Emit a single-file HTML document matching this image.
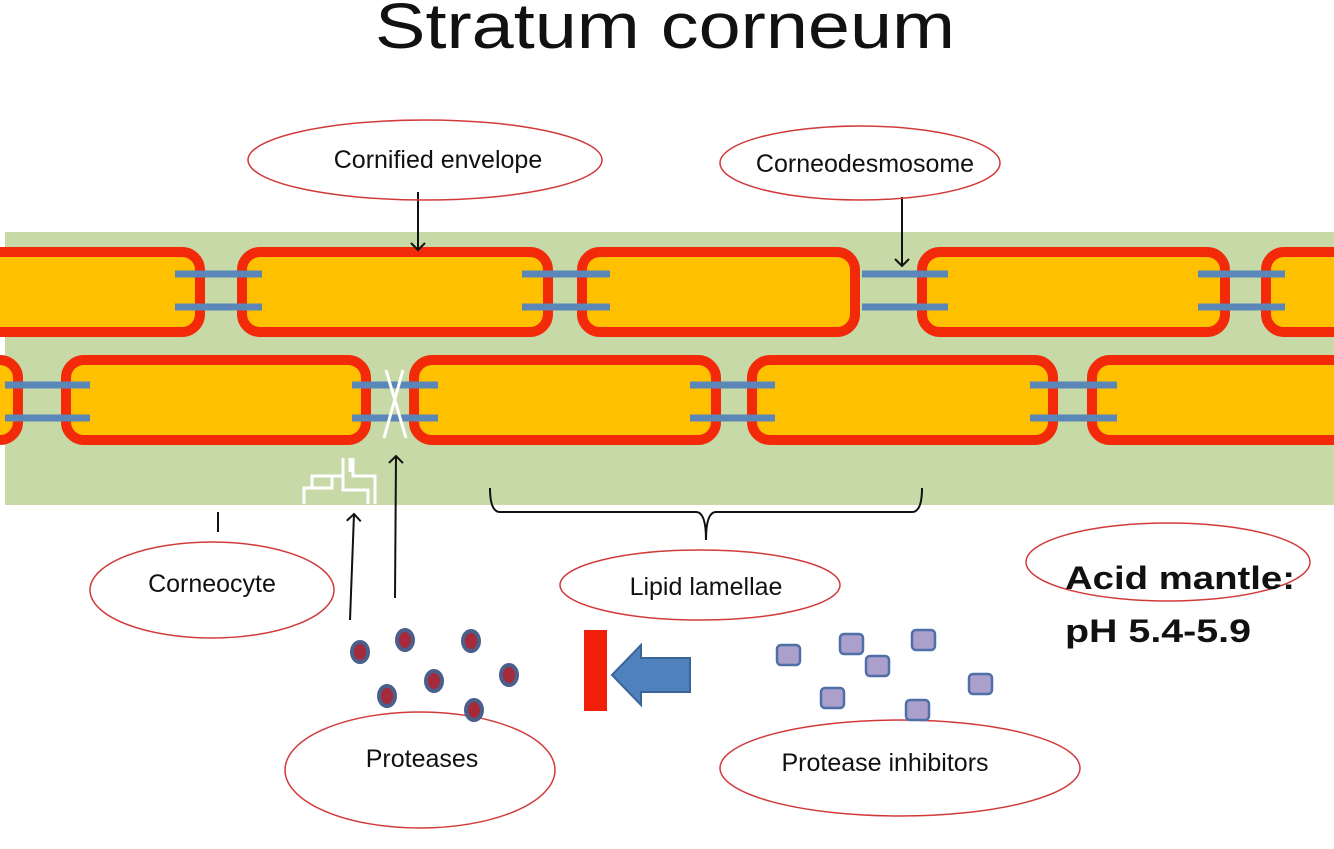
<!DOCTYPE html>
<html><head><meta charset="utf-8"><style>
html,body{margin:0;padding:0;background:#fff;width:1334px;height:849px;overflow:hidden}
svg{display:block}
text{font-family:"Liberation Sans",sans-serif;fill:#111}
</style></head><body>
<svg width="1334" height="849" viewBox="0 0 1334 849" xmlns="http://www.w3.org/2000/svg">
<defs>
<marker id="ah" markerWidth="16" markerHeight="16" refX="8" refY="8" orient="auto" markerUnits="userSpaceOnUse">
<path d="M1,1 L8,8 L1,15" fill="none" stroke="#111" stroke-width="2"/>
</marker>
</defs>
<text x="375" y="48" font-size="64" textLength="580" lengthAdjust="spacingAndGlyphs">Stratum corneum</text>
<rect x="5" y="232" width="1329" height="273" fill="#c6d9a6"/>
<g fill="#ffc000" stroke="#f22a0a" stroke-width="10">
<rect x="-40" y="252" width="240" height="80" rx="18"/>
<rect x="242" y="252" width="306" height="80" rx="18"/>
<rect x="582" y="252" width="273" height="80" rx="18"/>
<rect x="922" y="252" width="303" height="80" rx="18"/>
<rect x="1266" y="252" width="100" height="80" rx="18"/>
<rect x="-60" y="360" width="78" height="80" rx="18"/>
<rect x="66" y="360" width="300" height="80" rx="18"/>
<rect x="414" y="360" width="302" height="80" rx="18"/>
<rect x="752" y="360" width="301" height="80" rx="18"/>
<rect x="1092" y="360" width="280" height="80" rx="18"/>
</g>
<g stroke="#5b86b8" stroke-width="7">
<line x1="175" y1="274" x2="262" y2="274"/><line x1="175" y1="307" x2="262" y2="307"/>
<line x1="522" y1="274" x2="610" y2="274"/><line x1="522" y1="307" x2="610" y2="307"/>
<line x1="862" y1="274" x2="948" y2="274"/><line x1="862" y1="307" x2="948" y2="307"/>
<line x1="1198" y1="274" x2="1285" y2="274"/><line x1="1198" y1="307" x2="1285" y2="307"/>
<line x1="5" y1="385" x2="90" y2="385"/><line x1="5" y1="418" x2="90" y2="418"/>
<line x1="352" y1="385" x2="438" y2="385"/><line x1="352" y1="418" x2="438" y2="418"/>
<line x1="690" y1="385" x2="775" y2="385"/><line x1="690" y1="418" x2="775" y2="418"/>
<line x1="1030" y1="385" x2="1117" y2="385"/><line x1="1030" y1="418" x2="1117" y2="418"/>
</g>
<g stroke="#fff" stroke-width="3" fill="none">
<line x1="386" y1="370" x2="406" y2="438"/><line x1="403" y1="370" x2="384" y2="438"/>
<path d="M304,504 V488 H332 V476 H343 V458 M350,458 V472 M353,458 V476 H375 V504 M312,488 V476 H332 M343,476 V490 H368 V504"/>
</g>
<g stroke="#111" stroke-width="2" fill="none">
<line x1="418" y1="192" x2="418" y2="250" marker-end="url(#ah)"/>
<line x1="902" y1="197" x2="902" y2="266" marker-end="url(#ah)"/>
<line x1="218" y1="512" x2="218" y2="532"/>
<line x1="350" y1="620" x2="354" y2="514" marker-end="url(#ah)"/>
<line x1="395" y1="598" x2="396" y2="456" marker-end="url(#ah)"/>
<path d="M490,488 Q490,512 500,512 H696 Q706,512 706,540 Q706,512 716,512 H912 Q922,512 922,488"/>
</g>
<g fill="none" stroke="#d23a3a" stroke-width="1.5">
<ellipse cx="425" cy="160" rx="177" ry="40"/>
<ellipse cx="860" cy="163" rx="140" ry="37"/>
<ellipse cx="212" cy="590" rx="122" ry="48"/>
<ellipse cx="700" cy="585" rx="140" ry="35"/>
<ellipse cx="1168" cy="562" rx="142" ry="39"/>
<ellipse cx="420" cy="770" rx="135" ry="58"/>
<ellipse cx="900" cy="768" rx="180" ry="48"/>
</g>
<text x="438" y="168" font-size="25" text-anchor="middle">Cornified envelope</text>
<text x="865" y="172" font-size="25" text-anchor="middle">Corneodesmosome</text>
<text x="212" y="592" font-size="25" text-anchor="middle">Corneocyte</text>
<text x="706" y="595" font-size="25" text-anchor="middle">Lipid lamellae</text>
<text x="1065" y="589" font-size="32" font-weight="bold" textLength="230" lengthAdjust="spacingAndGlyphs">Acid mantle:</text>
<text x="1065" y="642" font-size="32" font-weight="bold" textLength="186" lengthAdjust="spacingAndGlyphs">pH 5.4-5.9</text>
<text x="422" y="767" font-size="25" text-anchor="middle">Proteases</text>
<text x="885" y="771" font-size="25" text-anchor="middle">Protease inhibitors</text>
<g fill="#a52a3a" stroke="#4a5f8c" stroke-width="4">
<ellipse cx="360" cy="652" rx="8" ry="10"/>
<ellipse cx="405" cy="640" rx="8" ry="10"/>
<ellipse cx="471" cy="641" rx="8" ry="10"/>
<ellipse cx="509" cy="675" rx="8" ry="10"/>
<ellipse cx="434" cy="681" rx="8" ry="10"/>
<ellipse cx="387" cy="696" rx="8" ry="10"/>
<ellipse cx="474" cy="710" rx="8" ry="10"/>
</g>
<g fill="#ab9fcb" stroke="#4f6fa8" stroke-width="2.5">
<rect x="840" y="634" width="23" height="20" rx="4"/>
<rect x="777" y="645" width="23" height="20" rx="4"/>
<rect x="912" y="630" width="23" height="20" rx="4"/>
<rect x="866" y="656" width="23" height="20" rx="4"/>
<rect x="821" y="688" width="23" height="20" rx="4"/>
<rect x="969" y="674" width="23" height="20" rx="4"/>
<rect x="906" y="700" width="23" height="20" rx="4"/>
</g>
<rect x="584" y="630" width="23" height="81" fill="#f2200a"/>
<path d="M612,675 L641,645 L641,658 L690,658 L690,692 L641,692 L641,705 Z" fill="#4f81bd" stroke="#3a659a" stroke-width="2"/>
</svg>
</body></html>
